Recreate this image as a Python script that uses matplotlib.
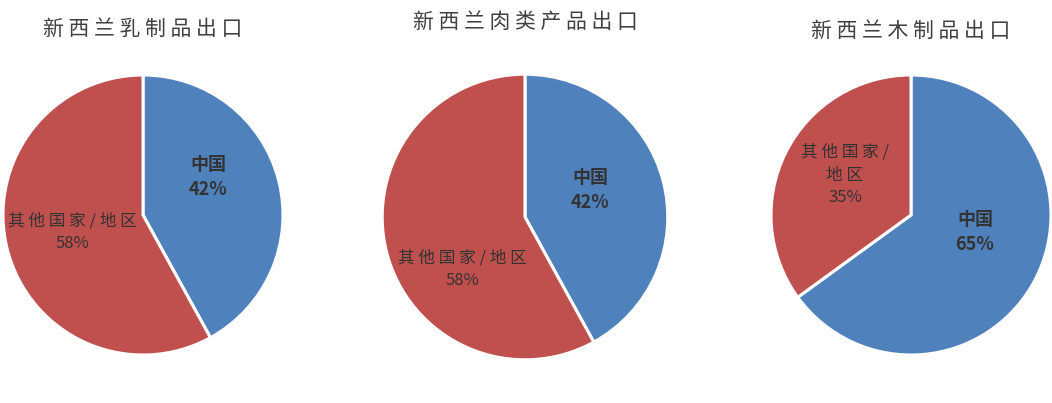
import matplotlib
matplotlib.use("Agg")
import matplotlib.pyplot as plt

plt.rcParams['font.family'] = ['Noto Sans CJK SC', 'DejaVu Sans']

titles = ["新西兰乳制品出口", "新西兰肉类产品出口", "新西兰木制品出口"]
categories = ["中国", "其他国家/地区"]
china_share = [42, 42, 65]
other_share = [58, 58, 35]
colors = ["#4F81BD", "#C0504D"]

W, H = 1052, 403
R = 140.0  # pixels per radius
centers_px = [(143, 215), (525, 217), (911, 215)]
radii = [1.0, 1.02, 1.0]
# label offsets from centre in pixels (dx, dy_down) for China / other
china_lab = [(65, -38), (65, -27), (64, 17)]
other_lab = [(-71, 17), (-63, 52), (-66, -40)]
other_text = ["其 他 国 家 / 地 区", "其 他 国 家 / 地 区", "其 他 国 家 /\n地 区"]
title_y = [29, 22, 31]

fig = plt.figure(figsize=(W / 100, H / 100), dpi=100)
for i in range(3):
    cx, cy = centers_px[i]
    aw = 380
    ax = fig.add_axes([(cx - aw / 2) / W, 0, aw / W, 1])
    ax.axis('off')
    vals = [china_share[i], other_share[i]]
    ax.pie(vals, colors=colors, startangle=90, counterclock=False,
           radius=radii[i], wedgeprops=dict(edgecolor='white', linewidth=2.2))
    ax.set_aspect('auto')
    ax.set_xlim(-aw / 2 / R, aw / 2 / R)
    ax.set_ylim(-(H - cy) / R, cy / R)
    ax.text(0, (cy - title_y[i]) / R, " ".join(titles[i]), ha='center', va='center',
            fontsize=15, color='#404040')
    dx, dy = china_lab[i]
    ax.text(dx / R, -dy / R, f"{categories[0]}\n{china_share[i]}%", ha='center',
            va='center', fontsize=13, fontweight='bold', color='#333333',
            linespacing=1.35)
    dx, dy = other_lab[i]
    ax.text(dx / R, -dy / R, f"{other_text[i]}\n{other_share[i]}%", ha='center',
            va='center', fontsize=12, color='#333333', linespacing=1.45)

fig.savefig("out.png", dpi=100, facecolor='white')
